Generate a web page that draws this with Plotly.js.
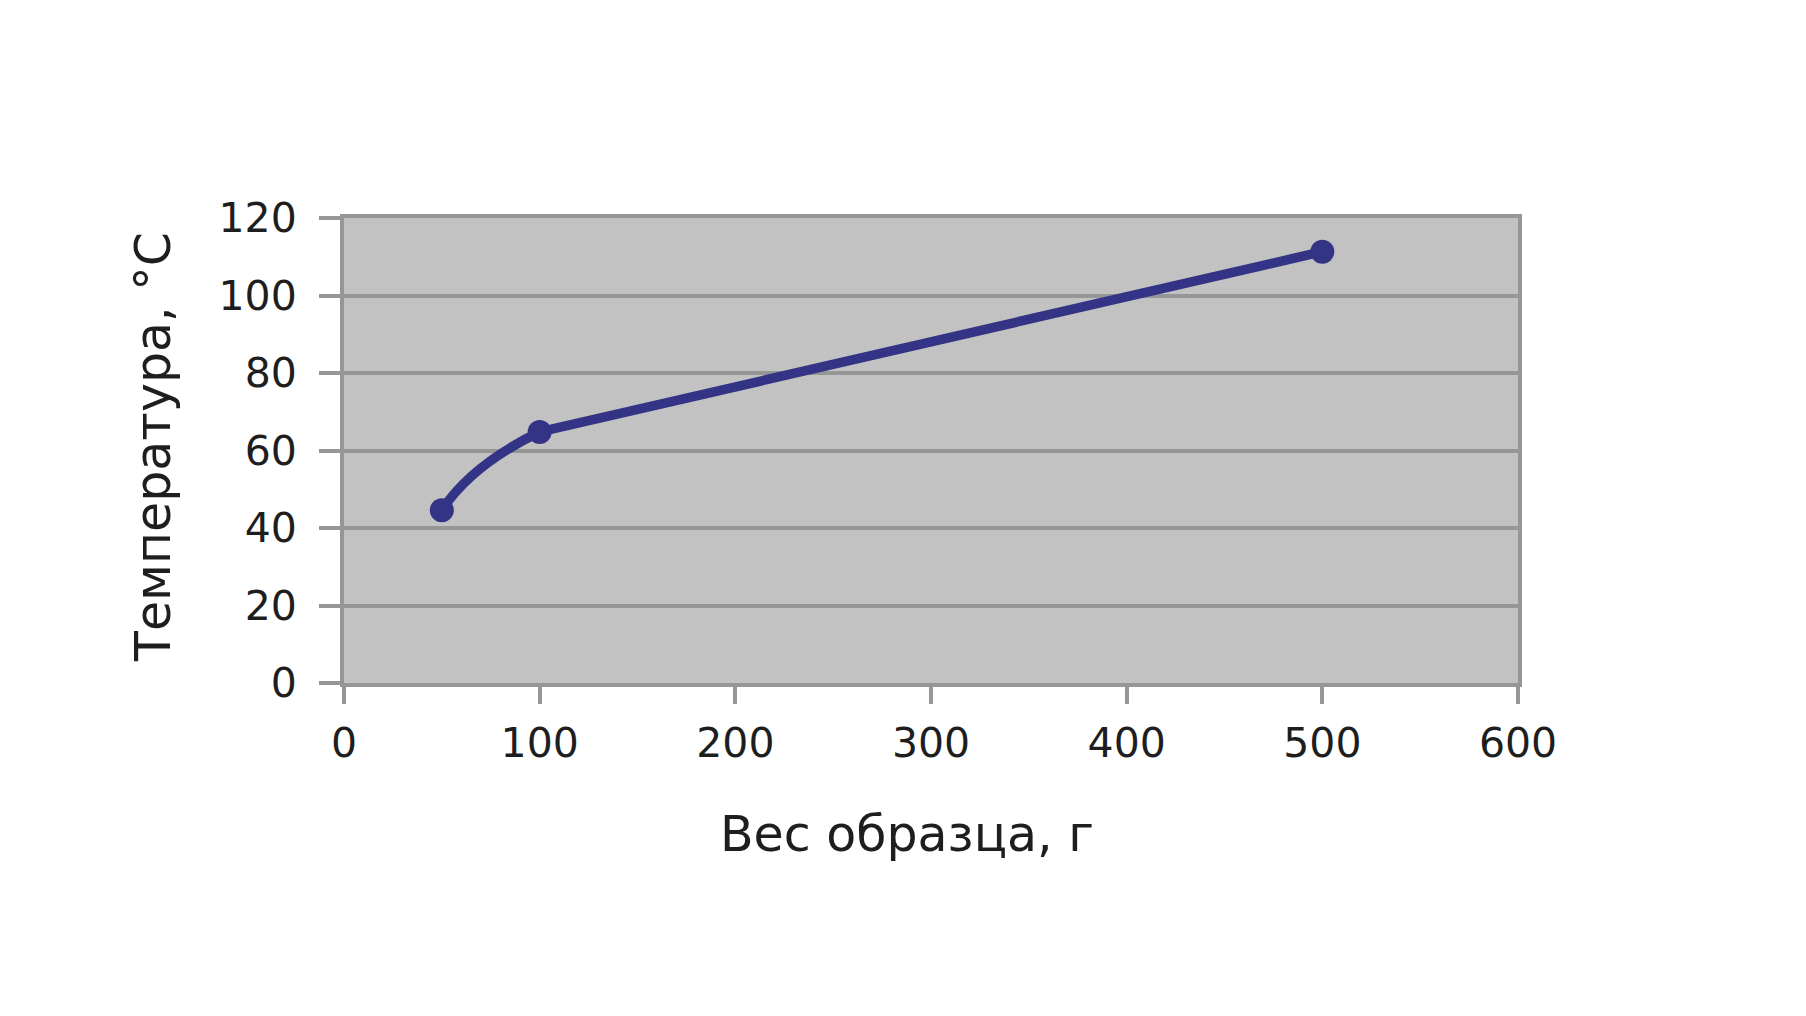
<!DOCTYPE html>
<html>
<head>
<meta charset="utf-8">
<script src="https://cdn.plot.ly/plotly-3.0.1.min.js"></script>
<style>
  html, body { margin: 0; padding: 0; background: #ffffff; }
  #chart { width: 1806px; height: 1016px; }
</style>
</head>
<body>
<div id="chart"></div>
<script>
// Data
const sampleWeight = [50, 100, 500];        // Вес образца, г
const temperature  = [44.6, 64.8, 111.3];   // Температура, °C
const xTickValues  = [0, 100, 200, 300, 400, 500, 600];
const yTickValues  = [0, 20, 40, 60, 80, 100, 120];
const xTitleText   = 'Вес образца, г';
const yTitleText   = 'Температура, °C';

const font = 'DejaVu Sans, Verdana, sans-serif';
const axisGray = '#969696';
const lineColor = '#343486';
const textColor = '#1e1e1e';
const plotBg = '#c2c2c2';

const xMax = 600;
// The first (short) segment is drawn as a smoothed curve on a clipped
// overlay subplot that only shows the range up to the second point.
const curveClipX = sampleWeight[1] + 4;

const curveTrace = {
  x: sampleWeight,
  y: temperature,
  xaxis: 'x2',
  yaxis: 'y',
  type: 'scatter',
  mode: 'lines',
  line: { color: lineColor, width: 9.5, shape: 'spline', smoothing: 1.3 },
  hoverinfo: 'skip',
  cliponaxis: true
};

const lineTrace = {
  x: sampleWeight.slice(1),
  y: temperature.slice(1),
  type: 'scatter',
  mode: 'lines',
  line: { color: lineColor, width: 9.5 },
  hoverinfo: 'skip'
};

const markerTrace = {
  x: sampleWeight,
  y: temperature,
  type: 'scatter',
  mode: 'markers',
  marker: { color: lineColor, size: 24 },
  hoverinfo: 'x+y',
  cliponaxis: false
};

const layout = {
  width: 1806,
  height: 1016,
  paper_bgcolor: '#ffffff',
  plot_bgcolor: 'rgba(0,0,0,0)',
  showlegend: false,
  margin: { l: 344, r: 288, t: 218, b: 333, pad: 0 },
  font: { family: font, color: textColor, size: 41 },
  shapes: [
    {
      type: 'rect', xref: 'paper', yref: 'paper',
      x0: 0, x1: 1, y0: 0, y1: 1,
      fillcolor: plotBg, line: { width: 0 }, layer: 'below'
    }
  ],
  xaxis: {
    range: [0, xMax],
    domain: [0, 1],
    tickvals: xTickValues,
    ticktext: xTickValues.map(String),
    showgrid: false,
    zeroline: false,
    showline: true,
    linecolor: axisGray,
    linewidth: 4,
    mirror: true,
    ticks: 'outside',
    ticklen: 17,
    tickwidth: 4,
    tickcolor: axisGray,
    ticklabelstandoff: 4,
    tickfont: { family: font, size: 41, color: textColor },
    fixedrange: true
  },
  xaxis2: {
    range: [0, curveClipX],
    domain: [0, curveClipX / xMax],
    anchor: 'y',
    visible: false,
    showgrid: false,
    zeroline: false,
    fixedrange: true
  },
  yaxis: {
    range: [0, 120],
    tickvals: yTickValues,
    ticktext: yTickValues.map(String),
    showgrid: true,
    gridcolor: axisGray,
    gridwidth: 4,
    zeroline: false,
    showline: true,
    linecolor: axisGray,
    linewidth: 4,
    mirror: true,
    ticks: 'outside',
    ticklen: 21,
    tickwidth: 4,
    tickcolor: axisGray,
    ticklabelstandoff: 14,
    tickfont: { family: font, size: 41, color: textColor },
    fixedrange: true
  },
  annotations: [
    {
      text: xTitleText,
      xref: 'paper', yref: 'paper',
      x: (907 - 344) / (1518 - 344), y: -(865 - 683) / (683 - 218),
      xanchor: 'center', yanchor: 'bottom',
      showarrow: false,
      font: { family: font, size: 49, color: textColor }
    },
    {
      text: yTitleText,
      xref: 'paper', yref: 'paper',
      x: -(344 - 153) / (1518 - 344), y: (683 - 447) / (683 - 218),
      xanchor: 'center', yanchor: 'middle',
      textangle: -90,
      showarrow: false,
      font: { family: font, size: 49, color: textColor }
    }
  ]
};

Plotly.newPlot('chart', [curveTrace, lineTrace, markerTrace], layout, { displayModeBar: false, staticPlot: true });
</script>
</body>
</html>
